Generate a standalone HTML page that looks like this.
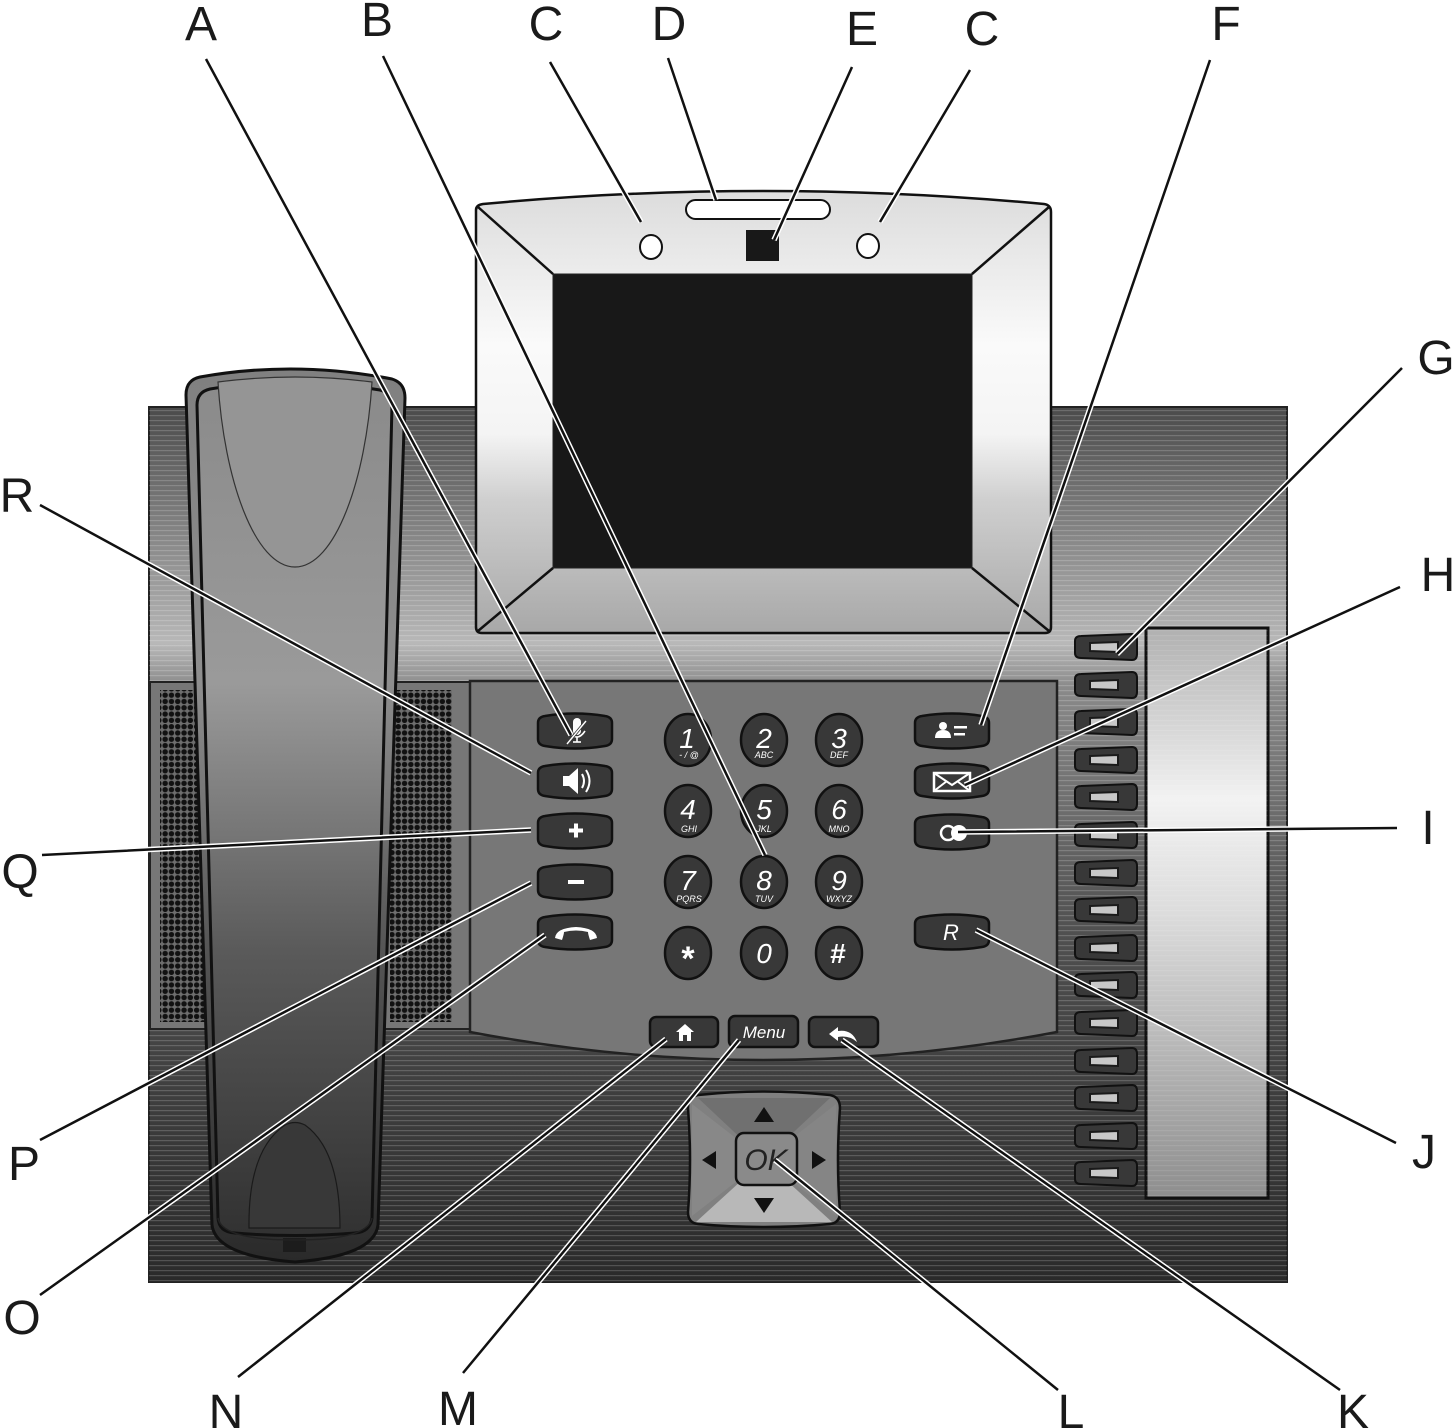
<!DOCTYPE html>
<html><head><meta charset="utf-8"><style>
html,body{margin:0;padding:0;background:#fff;}
svg{display:block;}
text{font-family:"Liberation Sans",sans-serif;}
</style></head><body>
<svg width="1454" height="1428" viewBox="0 0 1454 1428" xmlns="http://www.w3.org/2000/svg">
<defs>
<linearGradient id="body" x1="0" y1="407" x2="0" y2="1282" gradientUnits="userSpaceOnUse">
<stop offset="0" stop-color="#4a4a4a"/><stop offset="0.27" stop-color="#b8b8b8"/><stop offset="0.32" stop-color="#8a8a8a"/><stop offset="0.6" stop-color="#505050"/><stop offset="1" stop-color="#2a2a2a"/>
</linearGradient>
<pattern id="stripes" width="6" height="5" patternUnits="userSpaceOnUse">
<rect width="6" height="1.2" fill="#fff" opacity="0.18"/>
</pattern>
<linearGradient id="bezel" x1="0" y1="190" x2="0" y2="633" gradientUnits="userSpaceOnUse">
<stop offset="0" stop-color="#dcdcdc"/><stop offset="0.35" stop-color="#fafafa"/><stop offset="0.55" stop-color="#f4f4f4"/><stop offset="0.7" stop-color="#cfcfcf"/><stop offset="1" stop-color="#a8a8a8"/>
</linearGradient>
<linearGradient id="hs" x1="0" y1="372" x2="0" y2="1262" gradientUnits="userSpaceOnUse">
<stop offset="0" stop-color="#808080"/><stop offset="0.35" stop-color="#8e8e8e"/><stop offset="0.65" stop-color="#555"/><stop offset="1" stop-color="#2a2a2a"/>
</linearGradient>
<linearGradient id="hsi" x1="0" y1="372" x2="0" y2="1262" gradientUnits="userSpaceOnUse">
<stop offset="0" stop-color="#8a8a8a"/><stop offset="0.35" stop-color="#9a9a9a"/><stop offset="0.65" stop-color="#5a5a5a"/><stop offset="1" stop-color="#2e2e2e"/>
</linearGradient>
<linearGradient id="strip" x1="0" y1="628" x2="0" y2="1198" gradientUnits="userSpaceOnUse">
<stop offset="0" stop-color="#b0b0b0"/><stop offset="0.3" stop-color="#f2f2f2"/><stop offset="0.5" stop-color="#dcdcdc"/><stop offset="1" stop-color="#8e8e8e"/>
</linearGradient>
<pattern id="dots" width="6.3" height="6.3" patternUnits="userSpaceOnUse" x="162" y="692">
<rect width="6.3" height="6.3" fill="#6e6e6e"/>
<circle cx="3.15" cy="3.15" r="2.7" fill="#111"/>
</pattern>
<symbol id="btn" viewBox="-40 -22 80 44" overflow="visible">
<path d="M-37,-8 Q-37,-14 -30,-15 Q0,-20 30,-15 Q37,-14 37,-8 L37,8 Q37,14 30,15 Q0,20 -30,15 Q-37,14 -37,8 Z" fill="#383838" stroke="#111" stroke-width="2.5"/>
</symbol>
<symbol id="lk" viewBox="-35 -15 70 30" overflow="visible">
<path d="M-31,-6 Q-31,-11 -25,-11 L26,-13 Q31,-13 31,-7 L31,7 Q31,13 26,13 L-25,11 Q-31,11 -31,6 Z" fill="#383838" stroke="#111" stroke-width="2"/>
<path d="M-16,-4 L12,-5 L12,5 L-16,4 Z" fill="#c8c8c8" stroke="#1a1a1a" stroke-width="2"/>
</symbol>
</defs>

<rect x="149" y="407" width="1138" height="875" fill="url(#body)" stroke="#222" stroke-width="2"/>
<rect x="149" y="407" width="1138" height="875" fill="url(#stripes)"/>

<rect x="150" y="682" width="320" height="347" fill="#777" stroke="#222" stroke-width="2"/>
<rect x="160" y="690" width="45" height="332" fill="url(#dots)"/>
<rect x="390" y="690" width="62" height="332" fill="url(#dots)"/>

<rect x="1146" y="628" width="122" height="570" fill="url(#strip)" stroke="#111" stroke-width="3"/>
<rect x="1146" y="628" width="122" height="570" fill="url(#stripes)" opacity="0.5"/>

<g>
<use href="#lk" x="1071" y="632" width="70" height="30"/>
<use href="#lk" x="1071" y="670" width="70" height="30"/>
<use href="#lk" x="1071" y="707" width="70" height="30"/>
<use href="#lk" x="1071" y="745" width="70" height="30"/>
<use href="#lk" x="1071" y="782" width="70" height="30"/>
<use href="#lk" x="1071" y="820" width="70" height="30"/>
<use href="#lk" x="1071" y="858" width="70" height="30"/>
<use href="#lk" x="1071" y="895" width="70" height="30"/>
<use href="#lk" x="1071" y="933" width="70" height="30"/>
<use href="#lk" x="1071" y="970" width="70" height="30"/>
<use href="#lk" x="1071" y="1008" width="70" height="30"/>
<use href="#lk" x="1071" y="1046" width="70" height="30"/>
<use href="#lk" x="1071" y="1083" width="70" height="30"/>
<use href="#lk" x="1071" y="1121" width="70" height="30"/>
<use href="#lk" x="1071" y="1158" width="70" height="30"/>
</g>

<path d="M470,681 L1057,681 L1057,1032 Q764,1088 470,1032 Z" fill="#777" stroke="#222" stroke-width="2.5"/>

<path d="M476,210 Q476,205 483,204 Q763,178 1044,204 Q1051,205 1051,212 L1051,627 Q1051,633 1045,633 L482,633 Q476,633 476,627 Z" fill="url(#bezel)" stroke="#111" stroke-width="2.5"/>
<rect x="553" y="274" width="419" height="294" fill="#181818" stroke="#222" stroke-width="1"/>
<g stroke="#111" stroke-width="2.5">
<line x1="478" y1="207" x2="553" y2="274"/><line x1="1049" y1="207" x2="972" y2="274"/>
<line x1="478" y1="631" x2="553" y2="568"/><line x1="1049" y1="631" x2="972" y2="568"/>
</g>
<rect x="686" y="200" width="144" height="19" rx="9.5" fill="#fff" stroke="#111" stroke-width="2"/>
<rect x="746" y="230" width="33" height="31" fill="#181818"/>
<ellipse cx="651" cy="247" rx="11" ry="12" fill="#fff" stroke="#111" stroke-width="2"/>
<ellipse cx="868" cy="246" rx="11" ry="12" fill="#fff" stroke="#111" stroke-width="2"/>

<path d="M186,395 Q186,380 200,377 Q295,360 392,379 Q405,383 405,398 L378,1225 Q374,1256 295,1262 Q216,1256 212,1225 Z" fill="url(#hs)" stroke="#111" stroke-width="3"/>
<path d="M197,405 Q197,392 210,389 Q295,375 380,390 Q392,393 392,405 L372,1218 Q370,1232 355,1233 Q295,1238 235,1233 Q219,1232 218,1218 Z" fill="url(#hsi)" stroke="#111" stroke-width="3"/>
<path d="M218,382 Q295,372 372,382 C366,480 335,567 295,567 C255,567 224,480 218,382 Z" fill="#959595" stroke="#333" stroke-width="1.2"/>
<path d="M249,1228 Q248,1150 285,1125 Q295,1120 305,1125 Q340,1150 340,1228 Z" fill="#383838" stroke="#1a1a1a" stroke-width="1.2"/>
<rect x="283" y="1238" width="23" height="14" fill="#1c1c1c"/>
<path d="M218,1218 Q222,1240 295,1240 Q368,1240 372,1218" fill="none" stroke="#222" stroke-width="1.5"/>

<use href="#btn" x="535" y="709" width="80" height="44"/>
<use href="#btn" x="535" y="759" width="80" height="44"/>
<use href="#btn" x="535" y="809" width="80" height="44"/>
<use href="#btn" x="535" y="860" width="80" height="44"/>
<use href="#btn" x="535" y="910" width="80" height="44"/>
<use href="#btn" x="912" y="709" width="80" height="44"/>
<use href="#btn" x="912" y="759" width="80" height="44"/>
<use href="#btn" x="912" y="810" width="80" height="44"/>
<use href="#btn" x="912" y="910" width="80" height="44"/>

<g fill="#fff" stroke="#fff">
<path d="M573,722 a4,4 0 0 1 8,0 v9 a4,4 0 0 1 -8,0z" stroke="none"/>
<path d="M569,731 q8,12 16,0" fill="none" stroke-width="1.6"/>
<line x1="577" y1="737" x2="577" y2="742" stroke-width="1.6"/><line x1="573" y1="742" x2="581" y2="742" stroke-width="1.6"/>
<line x1="567" y1="744" x2="586" y2="721" stroke="#383838" stroke-width="3"/>
<line x1="567" y1="744" x2="586" y2="721" stroke-width="1.4"/>
<path d="M563,776 h6 l9,-8 v26 l-9,-8 h-6z" stroke="none"/>
<path d="M582,774 q4,7 0,14" fill="none" stroke-width="2"/>
<path d="M586,770 q7,11 0,22" fill="none" stroke-width="2"/>
<rect x="569" y="828.5" width="14" height="4" stroke="none"/><rect x="574" y="823.5" width="4" height="14" stroke="none"/>
<rect x="568" y="880" width="16" height="4" stroke="none"/>
<path d="M555,938 Q556,928 576,927 Q596,928 597,938 L590,940 Q588,934 588,932 Q576,929 564,932 Q564,934 562,940 Z" stroke="none"/>
</g>
<g fill="#fff" stroke="#fff">
<circle cx="943" cy="726" r="4" stroke="none"/>
<path d="M935,738 q0,-8 8,-8 q8,0 8,8z" stroke="none"/>
<rect x="954" y="726" width="13" height="2.5" stroke="none"/><rect x="954" y="733" width="11" height="2.5" stroke="none"/>
<rect x="934" y="773" width="36" height="18" fill="none" stroke-width="2.5"/>
<path d="M934,773 L952,785 L970,773 M934,791 L947,781 M970,791 L957,781" fill="none" stroke-width="2"/>
<circle cx="948" cy="833" r="7" fill="none" stroke-width="2.5"/>
<circle cx="959" cy="833" r="8" stroke="none"/>
</g>
<text x="951" y="940" font-size="22" font-style="italic" fill="#fff" text-anchor="middle">R</text>

<g fill="#383838" stroke="#111" stroke-width="2.5">
<ellipse cx="688" cy="740" rx="23" ry="26"/><ellipse cx="764" cy="740" rx="23" ry="26"/><ellipse cx="839" cy="740" rx="23" ry="26"/>
<ellipse cx="688" cy="811" rx="23" ry="26"/><ellipse cx="764" cy="811" rx="23" ry="26"/><ellipse cx="839" cy="811" rx="23" ry="26"/>
<ellipse cx="688" cy="882" rx="23" ry="26"/><ellipse cx="764" cy="882" rx="23" ry="26"/><ellipse cx="839" cy="882" rx="23" ry="26"/>
<ellipse cx="688" cy="953" rx="23" ry="26"/><ellipse cx="764" cy="953" rx="23" ry="26"/><ellipse cx="839" cy="953" rx="23" ry="26"/>
</g>
<g fill="#fff" font-style="italic" text-anchor="middle">
<text x="687" y="748" font-size="28">1</text><text x="764" y="748" font-size="28">2</text><text x="839" y="748" font-size="28">3</text>
<text x="688" y="819" font-size="28">4</text><text x="764" y="819" font-size="28">5</text><text x="839" y="819" font-size="28">6</text>
<text x="688" y="890" font-size="28">7</text><text x="764" y="890" font-size="28">8</text><text x="839" y="890" font-size="28">9</text>
<text x="764" y="963" font-size="28">0</text>
<text x="689" y="758" font-size="9">- / @</text><text x="764" y="758" font-size="9">ABC</text><text x="839" y="758" font-size="9">DEF</text>
<text x="689" y="832" font-size="9">GHI</text><text x="764" y="832" font-size="9">JKL</text><text x="839" y="832" font-size="9">MNO</text>
<text x="689" y="902" font-size="9">PQRS</text><text x="764" y="902" font-size="9">TUV</text><text x="839" y="902" font-size="9">WXYZ</text>
</g>
<text x="688" y="970" font-size="34" font-weight="bold" fill="#fff" text-anchor="middle">*</text>
<text x="838" y="963" font-size="28" font-weight="bold" fill="#fff" text-anchor="middle">#</text>

<g fill="#383838" stroke="#111" stroke-width="2.5">
<rect x="650" y="1017" width="68" height="30" rx="6"/>
<rect x="729" y="1016" width="69" height="31" rx="6"/>
<rect x="809" y="1017" width="69" height="30" rx="6"/>
</g>
<g fill="#fff">
<path d="M676,1032 L685,1024 L694,1032 L691,1032 L691,1041 L679,1041 L679,1032 Z"/>
<rect x="683" y="1035" width="4" height="6" fill="#383838"/>
<path d="M829,1034 L838,1027 L838,1031 Q852,1029 857,1042 Q849,1035 838,1037 L838,1041 Z"/>
</g>
<text x="764" y="1038" font-size="17" font-style="italic" fill="#fff" text-anchor="middle">Menu</text>

<path d="M698,1095 Q764,1088 830,1095 Q840,1097 840,1108 Q836,1160 840,1212 Q840,1223 830,1224 Q764,1230 698,1224 Q688,1223 688,1212 Q692,1160 688,1108 Q688,1097 698,1095 Z" fill="#808080" stroke="#111" stroke-width="2.5"/>
<path d="M698,1098 L830,1098 L764,1160 Z" fill="#707070"/>
<path d="M696,1222 L832,1222 L764,1160 Z" fill="#b8b8b8"/>
<path d="M692,1104 L692,1216 L764,1160 Z" fill="#888"/>
<path d="M836,1104 L836,1216 L764,1160 Z" fill="#858585"/>
<rect x="736" y="1133" width="61" height="52" rx="8" fill="#8a8a8a" stroke="#111" stroke-width="2.5"/>
<text x="766" y="1170" font-size="30" font-style="italic" fill="#222" text-anchor="middle">OK</text>
<g fill="#111">
<path d="M764,1107 L774,1122 L754,1122 Z"/><path d="M764,1213 L774,1198 L754,1198 Z"/>
<path d="M702,1160 L716,1151 L716,1169 Z"/><path d="M826,1160 L812,1151 L812,1169 Z"/>
</g>

<g fill="none" stroke-linecap="butt">
<g stroke="#fff" stroke-width="5.5">
<path d="M206,59 L571,735 M383,56 L765,855 M550,62 L641,222 M668,58 L716,200 M852,67 L774,240 M970,70 L880,222 M1210,60 L981,725 M1402,368 L1117,654 M1400,587 L965,785 M1397,828 L958,832 M1396,1143 L976,930 M1340,1390 L842,1040 M1058,1390 L775,1160 M463,1373 L739,1040 M238,1377 L666,1039 M40,1295 L545,935 M40,1140 L531,883 M42,855 L531,830 M40,505 L531,773"/>
</g>
<g stroke="#111" stroke-width="2.5">
<path d="M206,59 L571,735 M383,56 L765,855 M550,62 L641,222 M668,58 L716,200 M852,67 L774,240 M970,70 L880,222 M1210,60 L981,725 M1402,368 L1117,654 M1400,587 L965,785 M1397,828 L958,832 M1396,1143 L976,930 M1340,1390 L842,1040 M1058,1390 L775,1160 M463,1373 L739,1040 M238,1377 L666,1039 M40,1295 L545,935 M40,1140 L531,883 M42,855 L531,830 M40,505 L531,773"/>
</g>
</g>

<g font-size="48" fill="#1a1a1a" text-anchor="middle">
<text x="201" y="40">A</text><text x="377" y="36">B</text><text x="546" y="40">C</text><text x="669" y="40">D</text><text x="862" y="45">E</text><text x="982" y="45">C</text><text x="1226" y="40">F</text>
<text x="1436" y="374">G</text><text x="1438" y="591">H</text><text x="1428" y="844">I</text><text x="1424" y="1168">J</text>
<text x="1353" y="1428">K</text><text x="1071" y="1428">L</text><text x="458" y="1425">M</text><text x="226" y="1428">N</text>
<text x="22" y="1334">O</text><text x="24" y="1180">P</text><text x="20" y="888">Q</text><text x="17" y="512">R</text>
</g>
</svg>
</body></html>
